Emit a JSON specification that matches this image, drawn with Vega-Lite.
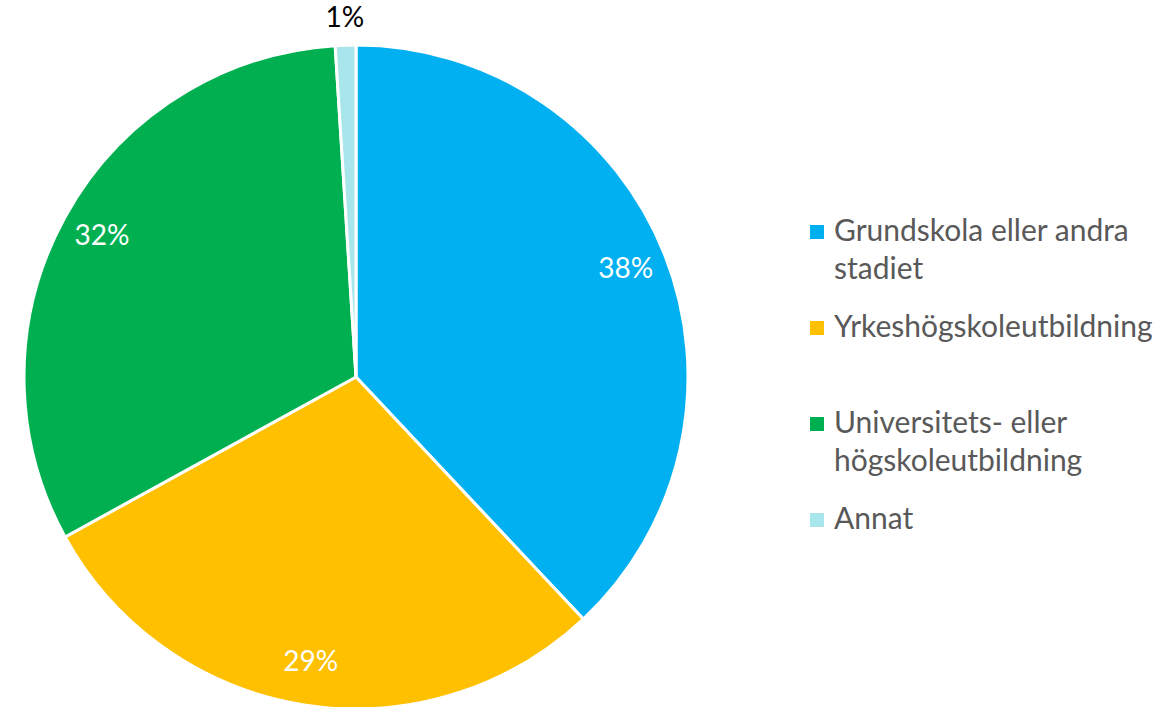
{
  "$schema": "https://vega.github.io/schema/vega-lite/v6.json",
  "width": 712,
  "height": 754,
  "autosize": {"type": "none"},
  "padding": {"left": 0, "top": 0, "right": 458, "bottom": 0},
  "background": "white",
  "config": {"view": {"stroke": null}, "style": {"guide-label": {"lineHeight": 38}}},
  "data": {"values": [
    {"kategori": "Grundskola eller andra stadiet", "andel": 0.38, "ord": 1},
    {"kategori": "Yrkeshögskoleutbildning", "andel": 0.29, "ord": 2},
    {"kategori": "Universitets- eller högskoleutbildning", "andel": 0.32, "ord": 3},
    {"kategori": "Annat", "andel": 0.01, "ord": 4}
  ]},
  "encoding": {
    "theta": {"field": "andel", "type": "quantitative", "stack": true},
    "order": {"field": "ord", "type": "quantitative"},
    "color": {
      "field": "kategori",
      "type": "nominal",
      "sort": ["Grundskola eller andra stadiet", "Yrkeshögskoleutbildning", "Universitets- eller högskoleutbildning", "Annat"],
      "scale": {
        "domain": ["Grundskola eller andra stadiet", "Yrkeshögskoleutbildning", "Universitets- eller högskoleutbildning", "Annat"],
        "range": ["#00B0F0", "#FFC000", "#00B050", "#A9E6EC"]
      },
      "legend": {
        "title": null,
        "orient": "none",
        "legendX": 802,
        "legendY": 217,
        "padding": 0,
        "symbolType": "square",
        "symbolSize": 196,
        "symbolStrokeWidth": 0,
        "labelFont": "Lato",
        "labelFontSize": 30,
        "labelColor": "#595959",
        "labelOffset": 2,
        "labelLimit": 400,
        "rowPadding": 28,
        "labelExpr": "datum.label == 'Grundskola eller andra stadiet' ? ['Grundskola eller andra', 'stadiet'] : datum.label == 'Universitets- eller högskoleutbildning' ? ['Universitets- eller', 'högskoleutbildning'] : [datum.label, ' ']"
      }
    }
  },
  "layer": [
    {"mark": {"type": "arc", "outerRadius": 332, "stroke": "white", "strokeWidth": 3}},
    {
      "mark": {"type": "text", "radius": 290, "font": "Lato", "fontSize": 28, "align": "center", "baseline": "middle"},
      "encoding": {
        "color": {"value": "white"},
        "text": {"condition": {"test": "datum.andel > 0.02", "field": "andel", "type": "quantitative", "format": ".0%"}, "value": ""}
      }
    },
    {
      "mark": {"type": "text", "radius": 358, "font": "Lato", "fontSize": 28, "align": "center", "baseline": "middle"},
      "encoding": {
        "color": {"value": "black"},
        "text": {"condition": {"test": "datum.andel <= 0.02", "field": "andel", "type": "quantitative", "format": ".0%"}, "value": ""}
      }
    }
  ]
}
